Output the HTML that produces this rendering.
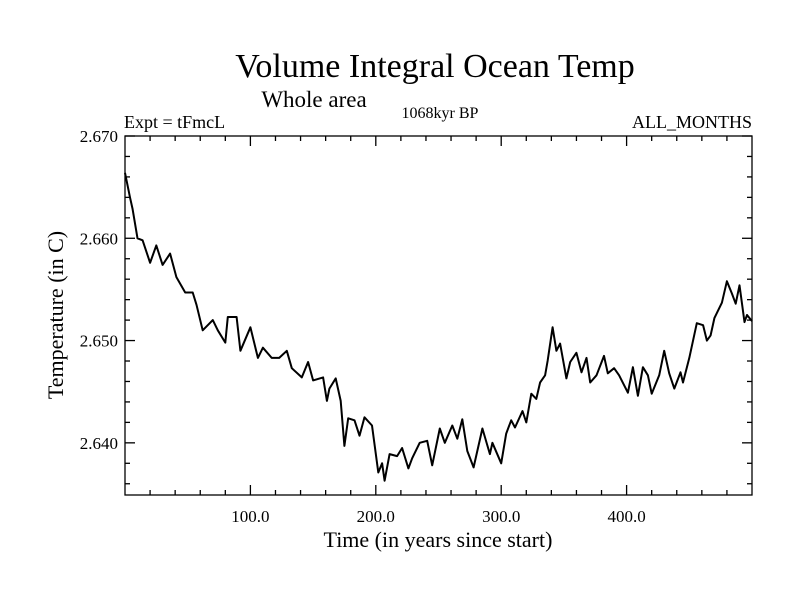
<!DOCTYPE html>
<html><head><meta charset="utf-8"><style>
html,body{margin:0;padding:0;background:#fff;}
svg{display:block;font-family:"Liberation Serif",serif;}
</style></head><body>
<svg id="chart" width="800" height="600">
<text x="435" y="77" font-size="34" text-anchor="middle">Volume Integral Ocean Temp</text>
<text x="314" y="107" font-size="23" text-anchor="middle">Whole area</text>
<text x="124" y="128" font-size="18">Expt = tFmcL</text>
<text x="440" y="118" font-size="16" text-anchor="middle">1068kyr BP</text>
<text x="752" y="128" font-size="18" text-anchor="end">ALL_MONTHS</text>
<text x="438" y="547" font-size="22" text-anchor="middle">Time (in years since start)</text>
<text transform="translate(63,315) rotate(-90)" font-size="22" text-anchor="middle">Temperature (in C)</text>
<g id="axes"></g>
<path id="series" fill="none" stroke="#000" stroke-width="2" stroke-linejoin="round"/>
</svg>
<script>
const years = [0,4,6,10,14,20,25,30,36,41,48,54,57,62,70,74,80,82,89,92,100,106,110,117,123,129,133,141,146,150,158,161,163,168,172,175,178,183,187,191,197,202,205,207,211,217,221,226,229,235,241,245,251,255,261,265,269,273,278,285,291,293,300,304,308,311,317,320,324,328,331,335,337,341,344,347,352,355,360,364,368,371,376,382,385,390,394,401,405,409,413,417,420,426,430,434,438,443,445,450,456,461,464,467,470,476,480,484,487,490,494,496,500];
const temps = [2.6664,2.6640,2.6629,2.6600,2.6598,2.6576,2.6593,2.6574,2.6585,2.6562,2.6547,2.6547,2.6535,2.6510,2.6520,2.6510,2.6498,2.6523,2.6523,2.6490,2.6513,2.6483,2.6493,2.6483,2.6483,2.6490,2.6473,2.6464,2.6479,2.6461,2.6464,2.6441,2.6453,2.6463,2.6441,2.6397,2.6424,2.6422,2.6407,2.6425,2.6417,2.6371,2.6380,2.6363,2.6389,2.6387,2.6395,2.6375,2.6385,2.6400,2.6402,2.6378,2.6414,2.6400,2.6417,2.6404,2.6423,2.6392,2.6376,2.6414,2.6389,2.6400,2.6380,2.6409,2.6422,2.6415,2.6431,2.6420,2.6448,2.6443,2.6459,2.6466,2.6480,2.6513,2.6490,2.6497,2.6463,2.6479,2.6488,2.6469,2.6483,2.6459,2.6466,2.6485,2.6468,2.6473,2.6466,2.6449,2.6474,2.6446,2.6474,2.6466,2.6448,2.6466,2.6490,2.6468,2.6453,2.6469,2.6459,2.6483,2.6517,2.6515,2.6500,2.6505,2.6522,2.6537,2.6558,2.6546,2.6536,2.6554,2.6518,2.6525,2.6519];
const xTickValues = [100,200,300,400];
const xTickLabels = ["100.0","200.0","300.0","400.0"];
const yTickValues = [2.640,2.650,2.660,2.670];
const yTickLabels = ["2.640","2.650","2.660","2.670"];

const L=125,R=752,T=136,B=495, X0=0,X1=500, Y0=2.6349,Y1=2.670;
const sx=v=>L+(v-X0)/(X1-X0)*(R-L);
const sy=v=>B-(v-Y0)/(Y1-Y0)*(B-T);
const NS="http://www.w3.org/2000/svg";
const axes=document.getElementById('axes');
function ln(x1,y1,x2,y2,name){
  const l=document.createElementNS(NS,'line');
  l.setAttribute('x1',x1);l.setAttribute('y1',y1);l.setAttribute('x2',x2);l.setAttribute('y2',y2);
  l.setAttribute('stroke','#000');l.setAttribute('stroke-width','1.3');
  
  
  axes.appendChild(l);
}
function tx(x,y,s,anchor,name){
  const t=document.createElementNS(NS,'text');
  t.setAttribute('x',x);t.setAttribute('y',y);t.setAttribute('font-size','17');
  t.setAttribute('text-anchor',anchor);t.textContent=s;
  
  
  axes.appendChild(t);
}
const frame=document.createElementNS(NS,'rect');
frame.setAttribute('x',L);frame.setAttribute('y',T);frame.setAttribute('width',R-L);frame.setAttribute('height',B-T);
frame.setAttribute('fill','none');frame.setAttribute('stroke','#000');frame.setAttribute('stroke-width','1.3');


axes.appendChild(frame);
for(let v=20;v<X1;v+=20){
  const x=sx(v), len=(v%100===0)?10:5;
  ln(x,B,x,B-len,'x-tick');ln(x,T,x,T+len,'x-tick-top');
}
for(let i=0;i<=17;i++){
  const v=2.636+i*0.002; if(v>Y1+1e-9) break;
  const y=sy(v), major=Math.abs(Math.round(v*100)-v*100)<1e-6, len=major?10:5;
  ln(L,y,L+len,y,'y-tick');ln(R,y,R-len,y,'y-tick-right');
}
xTickValues.forEach((v,i)=>tx(sx(v),B+27,xTickLabels[i],'middle','x-tick-label'));
yTickValues.forEach((v,i)=>tx(L-7,sy(v)+6,yTickLabels[i],'end','y-tick-label'));
document.getElementById('series').setAttribute('d',years.map((y,i)=>(i?'L':'M')+sx(y).toFixed(1)+','+sy(temps[i]).toFixed(1)).join(''));
</script>
</body></html>
